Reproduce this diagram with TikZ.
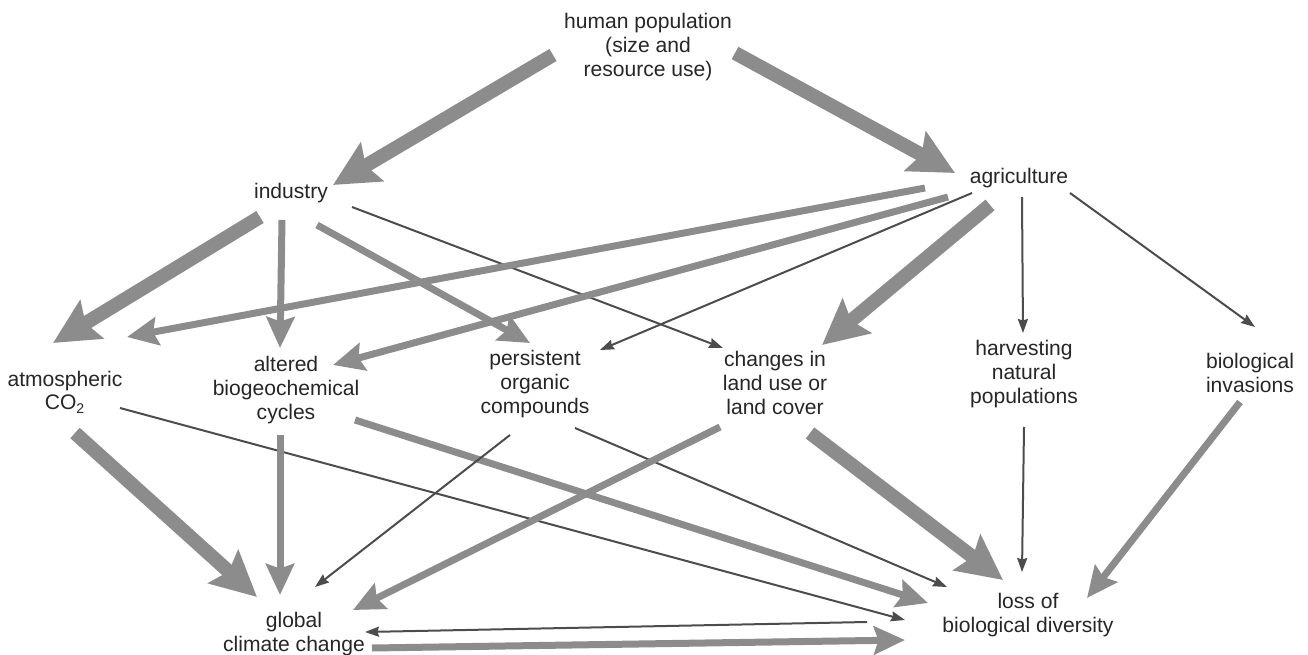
\documentclass[tikz,border=0pt]{standalone}
\usepackage{fontspec}
\setmainfont{Liberation Sans}
\usetikzlibrary{arrows.meta}

\begin{document}
\begin{tikzpicture}[x=0.02cm, y=-0.02cm,
	every node/.style={align=center, inner sep=0pt, text=black!85, font=\fontsize{12}{13.5}\selectfont},
	bigarrow/.style={-{Stealth[length=0.9cm, width=0.88cm, inset=0.14cm]}, line width=0.28cm, draw=black!45},
	midarrow/.style={-{Stealth[length=0.62cm, width=0.56cm, inset=0.09cm]}, line width=0.14cm, draw=black!45},
	thinarrow/.style={-{Stealth[length=0.28cm, width=0.2cm, inset=0.03cm]}, line width=0.04cm, draw=black!70}]
		\useasboundingbox (0,0) rectangle (1308,655);

		\node(human) at (648,47){human population\\(size and\\resource use)};
		\node(industry) at (291,193){industry};
		\node(agri) at (1019,178){agriculture};

		\node(co2) at (65,392){atmospheric\\CO\textsubscript{2}};
		\node(altered) at (286,390){altered\\biogeochemical\\cycles};
		\node(persistent) at (535,384){persistent\\organic\\compounds};
		\node(landuse) at (775,383){changes in\\land use or\\land cover};
		\node(harvest) at (1024,374){harvesting\\natural\\populations};
		\node(invasions) at (1250,373){biological\\invasions};

		\node(climate) at (294,634){global\\climate change};
		\node(loss) at (1028,615){loss of\\biological diversity};

		% draw drivers
		\draw[bigarrow] ([shift={(-95,8)}]human.center) -- ([shift={(42,-8)}]industry.center);
		\draw[bigarrow] ([shift={(87,6)}]human.center) -- ([shift={(-64,-5)}]agri.center);

		% draw industry edges
		\draw[bigarrow] ([shift={(-31,24)}]industry.center) -- ([shift={(-12,-49)}]co2.center);
		\draw[midarrow] ([shift={(-9,27)}]industry.center) -- ([shift={(-6,-42)}]altered.center);
		\draw[midarrow] ([shift={(26,32)}]industry.center) -- ([shift={(-5,-41)}]persistent.center);
		\draw[thinarrow] ([shift={(61,14)}]industry.center) -- ([shift={(-52,-35)}]landuse.center);

		% draw agriculture edges
		\draw[midarrow] ([shift={(-94,10)}]agri.center) -- ([shift={(62,-55)}]co2.center);
		\draw[midarrow] ([shift={(-71,19)}]agri.center) -- ([shift={(47,-25)}]altered.center);
		\draw[thinarrow] ([shift={(-47,15)}]agri.center) -- ([shift={(65,-34)}]persistent.center);
		\draw[bigarrow] ([shift={(-29,27)}]agri.center) -- ([shift={(47,-38)}]landuse.center);
		\draw[thinarrow] ([shift={(3,19)}]agri.center) -- ([shift={(-1,-41)}]harvest.center);
		\draw[thinarrow] ([shift={(51,15)}]agri.center) -- ([shift={(5,-46)}]invasions.center);

		% draw effect edges
		\draw[bigarrow] ([shift={(10,41)}]co2.center) -- ([shift={(-37,-37)}]climate.center);
		\draw[thinarrow] ([shift={(55,16)}]co2.center) -- ([shift={(-123,5)}]loss.center);
		\draw[midarrow] ([shift={(-6,45)}]altered.center) -- ([shift={(-14,-39)}]climate.center);
		\draw[midarrow] ([shift={(69,30)}]altered.center) -- ([shift={(-100,-12)}]loss.center);
		\draw[thinarrow] ([shift={(-25,51)}]persistent.center) -- ([shift={(21,-47)}]climate.center);
		\draw[thinarrow] ([shift={(40,44)}]persistent.center) -- ([shift={(-81,-28)}]loss.center);
		\draw[midarrow] ([shift={(-55,44)}]landuse.center) -- ([shift={(59,-24)}]climate.center);
		\draw[bigarrow] ([shift={(35,50)}]landuse.center) -- ([shift={(-25,-35)}]loss.center);
		\draw[thinarrow] ([shift={(0,53)}]harvest.center) -- ([shift={(-6,-43)}]loss.center);
		\draw[midarrow] ([shift={(-10,29)}]invasions.center) -- ([shift={(59,-17)}]loss.center);

		% draw feedback edges
		\draw[thinarrow] ([shift={(-161,7)}]loss.center) -- ([shift={(71,-2)}]climate.center);
		\draw[midarrow] ([shift={(78,14)}]climate.center) -- ([shift={(-123,25)}]loss.center);
	\end{tikzpicture}
\end{document}
